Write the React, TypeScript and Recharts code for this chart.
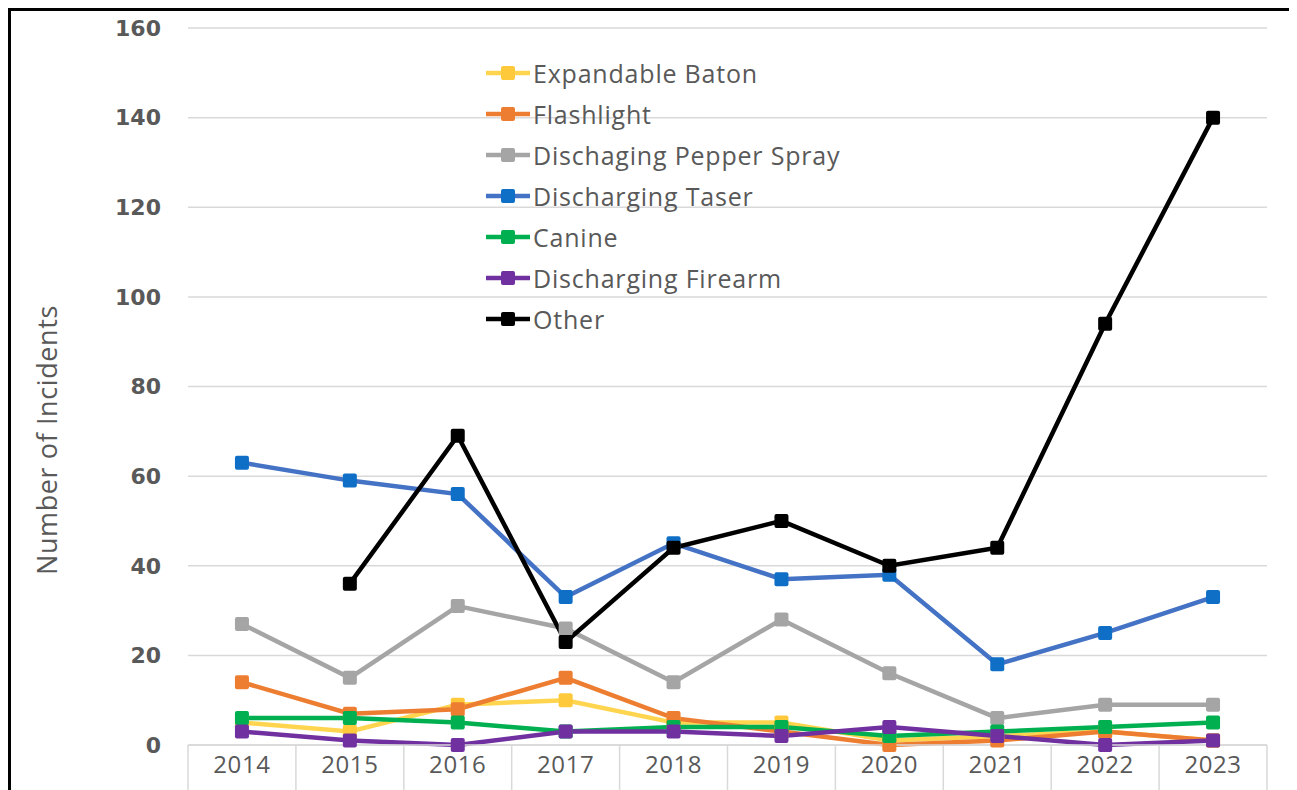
import { LineChart, Line, XAxis, YAxis, CartesianGrid } from "recharts";

const years = ["2014", "2015", "2016", "2017", "2018", "2019", "2020", "2021", "2022", "2023"];
const baton = [5, 3, 9, 10, 5, 5, 1, 2, 3, 1];
const flashlight = [14, 7, 8, 15, 6, 3, 0, 1, 3, 1];
const pepperSpray = [27, 15, 31, 26, 14, 28, 16, 6, 9, 9];
const taser = [63, 59, 56, 33, 45, 37, 38, 18, 25, 33];
const canine = [6, 6, 5, 3, 4, 4, 2, 3, 4, 5];
const firearm = [3, 1, 0, 3, 3, 2, 4, 2, 0, 1];
const other = [null, 36, 69, 23, 44, 50, 40, 44, 94, 140];
const yTicks = [0, 20, 40, 60, 80, 100, 120, 140, 160];

const series = [
  { key: "baton", name: "Expandable Baton", line: "#FFD54F", dot: "#FFC93C" },
  { key: "flashlight", name: "Flashlight", line: "#ED7D31", dot: "#ED7D31" },
  { key: "pepper", name: "Dischaging Pepper Spray", line: "#A5A5A5", dot: "#A5A5A5" },
  { key: "taser", name: "Discharging Taser", line: "#4472C4", dot: "#0F6FC6" },
  { key: "canine", name: "Canine", line: "#00B050", dot: "#00B050" },
  { key: "firearm", name: "Discharging Firearm", line: "#7030A0", dot: "#7030A0" },
  { key: "other", name: "Other", line: "#000000", dot: "#000000" },
];

const data = years.map((year, i) => ({
  year,
  baton: baton[i],
  flashlight: flashlight[i],
  pepper: pepperSpray[i],
  taser: taser[i],
  canine: canine[i],
  firearm: firearm[i],
  other: other[i],
}));

// the page keeps its 8px body margin, so everything is drawn 8px in
const OFF = 8;
const W = 1297 - OFF;
const H = 790 - OFF;
const PLOT_LEFT = 188 - OFF;
const PLOT_RIGHT = 1267 - OFF;
const PLOT_TOP = 28 - OFF;
const PLOT_BOTTOM = 745 - OFF;
const half = (PLOT_RIGHT - PLOT_LEFT) / years.length / 2;

const textColor = "#595959";
const font = "'Open Sans', Lato, sans-serif";

function squareDot(color: string) {
  return (props: any) => {
    const { cx, cy, index } = props;
    if (cx == null || cy == null || props.value == null) return <g key={index} />;
    return <rect key={index} x={cx - 7} y={cy - 7} width={14} height={14} rx={2} fill={color} />;
  };
}

function XTick(props: any) {
  const { x, y, payload, index } = props;
  return (
    <g>
      <line x1={x - half} y1={PLOT_BOTTOM} x2={x - half} y2={H} stroke="#d9d9d9" strokeWidth={1.5} />
      {index === years.length - 1 && (
        <line x1={x + half} y1={PLOT_BOTTOM} x2={x + half} y2={H} stroke="#d9d9d9" strokeWidth={1.5} />
      )}
      <text x={x} y={y + 20} textAnchor="middle" fill={textColor} fontSize={24} letterSpacing={0.6} fontFamily={font}>
        {payload.value}
      </text>
    </g>
  );
}

export default function App() {
  return (
    <div style={{ position: "relative", width: W, height: H, background: "#fff" }}>
      <LineChart
        width={W}
        height={H}
        data={data}
        margin={{ top: PLOT_TOP, right: W - PLOT_RIGHT, bottom: 0, left: 0 }}
      >
        <CartesianGrid vertical={false} stroke="#d9d9d9" strokeWidth={1.5} />
        <XAxis
          dataKey="year"
          height={H - PLOT_BOTTOM}
          padding={{ left: half, right: half }}
          axisLine={{ stroke: "#d9d9d9", strokeWidth: 1.5 }}
          tickLine={false}
          tick={<XTick />}
          interval={0}
        />
        <YAxis
          width={PLOT_LEFT}
          domain={[0, 160]}
          ticks={yTicks}
          axisLine={false}
          tickLine={false}
          tickSize={0}
          tickMargin={27}
          tick={{ fill: textColor, fontSize: 22, fontWeight: "bold", fontFamily: "'DejaVu Sans', sans-serif" }}
        />
        {series.map((s) => (
          <Line
            key={s.key}
            dataKey={s.key}
            name={s.name}
            stroke={s.line}
            strokeWidth={4.5}
            dot={squareDot(s.dot)}
            activeDot={false}
            isAnimationActive={false}
            connectNulls={false}
          />
        ))}
      </LineChart>

      {/* legend sits inside the plot */}
      <div style={{ position: "absolute", left: 484 - OFF, top: 52 - OFF, fontFamily: font }}>
        {series.map((s) => (
          <div key={s.key} style={{ display: "flex", alignItems: "center", height: 41 }}>
            <svg width={48} height={20} style={{ marginRight: 1 }}>
              <line x1={2} y1={10} x2={46} y2={10} stroke={s.line} strokeWidth={4.5} />
              <rect x={17} y={3} width={14} height={14} rx={2} fill={s.dot} />
            </svg>
            <span style={{ fontSize: 25, letterSpacing: 0.8, color: textColor, whiteSpace: "nowrap" }}>{s.name}</span>
          </div>
        ))}
      </div>

      <div
        style={{
          position: "absolute",
          left: 46 - OFF,
          top: 440 - OFF,
          transform: "translate(-50%, -50%) rotate(-90deg)",
          whiteSpace: "nowrap",
          fontFamily: font,
          fontSize: 27,
          letterSpacing: 0.6,
          color: textColor,
        }}
      >
        Number of Incidents
      </div>

      {/* black frame, cut off at the right and bottom */}
      <div style={{ position: "absolute", left: 0, top: 0, width: W, height: 3, background: "#000" }} />
      <div style={{ position: "absolute", left: 0, top: 0, width: 3, height: H, background: "#000" }} />
    </div>
  );
}
